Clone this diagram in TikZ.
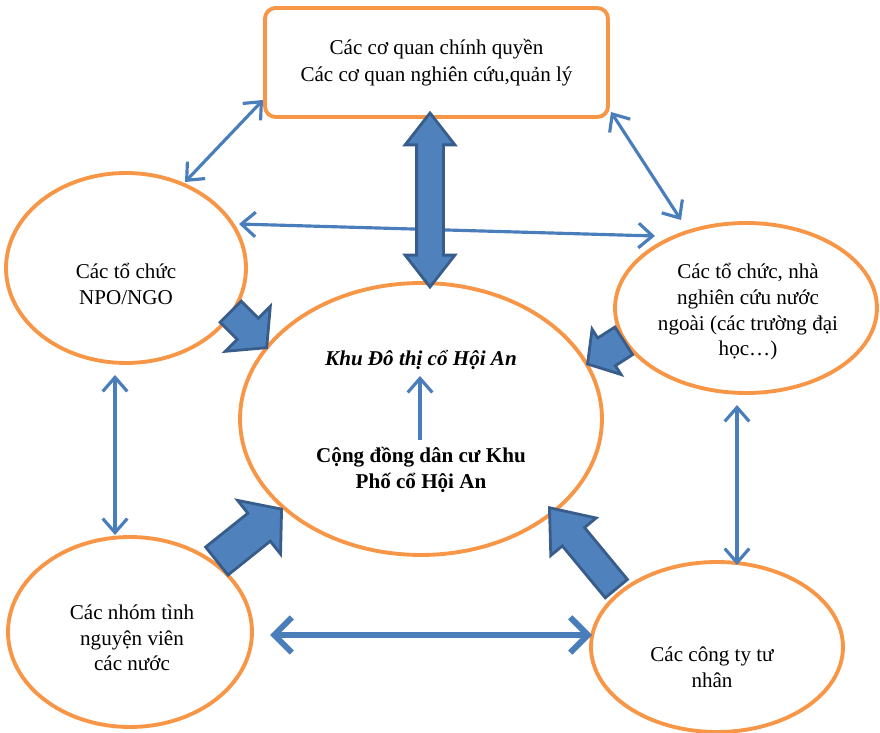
\documentclass[tikz,border=0pt]{standalone}
\usepackage{fontspec}
\setmainfont{Liberation Serif}
\usetikzlibrary{shapes.geometric,shapes.arrows,arrows.meta}
\definecolor{ovalorange}{HTML}{F79646}
\definecolor{linkblue}{HTML}{4A7EBB}
\definecolor{fatfill}{HTML}{4F81BD}
\definecolor{fatedge}{HTML}{385D8A}

\begin{document}
\begin{tikzpicture}[x=0.02cm,y=-0.02cm,
  oval/.style={ellipse,draw=ovalorange,line width=2.2pt,inner sep=0pt},
  lbl/.style={align=center,font=\fontsize{12}{14.6}\selectfont},
  link/.style={draw=linkblue,line width=1.8pt,{Straight Barb[length=8pt,width=14pt]}-{Straight Barb[length=8pt,width=14pt]}},
  fat/.style={single arrow,draw=fatedge,fill=fatfill,line width=1.6pt,inner xsep=0pt,single arrow head indent=0pt,anchor=tip}]
\useasboundingbox (0,0) rectangle (880,733);
% the groups
\node[draw=ovalorange,line width=2.2pt,rounded corners=6pt,minimum width=6.86cm,minimum height=2.18cm,lbl,font=\fontsize{12}{15.3}\selectfont] (Gov) at (436.5,62.5) {Các cơ quan chính quyền\\Các cơ quan nghiên cứu,quản lý};
\node[oval,minimum width=4.8cm,minimum height=3.8cm] (Ngo) at (126,268) {};
\node[oval,minimum width=5.24cm,minimum height=3.4cm] (Intl) at (746,308) {};
\node[oval,minimum width=7.24cm,minimum height=5.44cm] (Core) at (421,419) {};
\node[oval,minimum width=4.88cm,minimum height=3.8cm] (Vol) at (130,632) {};
\node[oval,minimum width=5.04cm,minimum height=3.4cm] (Firm) at (717,647) {};
% texts
\node[lbl] (NgoT) at (126,284) {Các tổ chức\\NPO/NGO};
\node[lbl] (IntlT) at (748,312) {Các tổ chức, nhà\\nghiên cứu nước\\ngoài (các trường đại\\học…)};
\node[lbl,font=\fontsize{12}{14.6}\selectfont\bfseries\itshape] (Site) at (421,360) {Khu Đô thị cổ Hội An};
\node[lbl,font=\fontsize{12}{15}\selectfont\bfseries] (People) at (421,470) {Cộng đồng dân cư Khu\\Phố cổ Hội An};
\node[lbl] (VolT) at (132,638) {Các nhóm tình\\nguyện viên\\các nước};
\node[lbl] (FirmT) at (712,667) {Các công ty tư\\nhân};
% thin links
\coordinate (gL) at (263,100);
\coordinate (nT) at (185,182);
\coordinate (gR) at (611,112);
\coordinate (iT) at (681,220);
\coordinate (nR) at (239,224);
\coordinate (iL) at (655,236);
\coordinate (nB) at (115,375);
\coordinate (vT) at (115,535);
\coordinate (iB) at (737,405);
\coordinate (fT) at (737,565);
\coordinate (vR) at (270,635);
\coordinate (fL) at (592,635);
\coordinate (pT) at (420,440);
\coordinate (sB) at (420,376);
\draw[link] (gL) -- (nT);
\draw[link] (gR) -- (iT);
\draw[link] (nR) -- (iL);
\draw[link] (nB) -- (vT);
\draw[link] (iB) -- (fT);
\draw[draw=linkblue,line width=3.4pt,{Straight Barb[length=10pt,width=20pt]}-{Straight Barb[length=10pt,width=20pt]}] (vR) -- (fL);
\draw[draw=linkblue,line width=1.8pt,-{Straight Barb[length=8pt,width=14pt]}] (pT) -- (sB);
% block arrows
\node[double arrow,draw=fatedge,fill=fatfill,line width=1.6pt,inner xsep=0pt,inner ysep=0.24cm,double arrow head extend=0.23cm,double arrow tip angle=76,minimum height=3.48cm,rotate=90] (aGov) at (430,200) {};
\node[fat,rotate=-45,minimum height=1.02cm,inner ysep=0.27cm,single arrow head extend=0.34cm,single arrow tip angle=100] (aNgo) at (268,349) {};
\node[fat,rotate=212.6,minimum height=0.86cm,inner ysep=0.30cm,single arrow head extend=0.21cm,single arrow tip angle=100] (aIntl) at (586,365) {};
\node[fat,rotate=38.7,minimum height=1.66cm,inner ysep=0.33cm,single arrow head extend=0.33cm,single arrow tip angle=100] (aVol) at (283,508) {};
\node[fat,rotate=129.6,minimum height=2.1cm,inner ysep=0.26cm,single arrow head extend=0.30cm,single arrow tip angle=76] (aFirm) at (548,506) {};
\end{tikzpicture}
\end{document}
